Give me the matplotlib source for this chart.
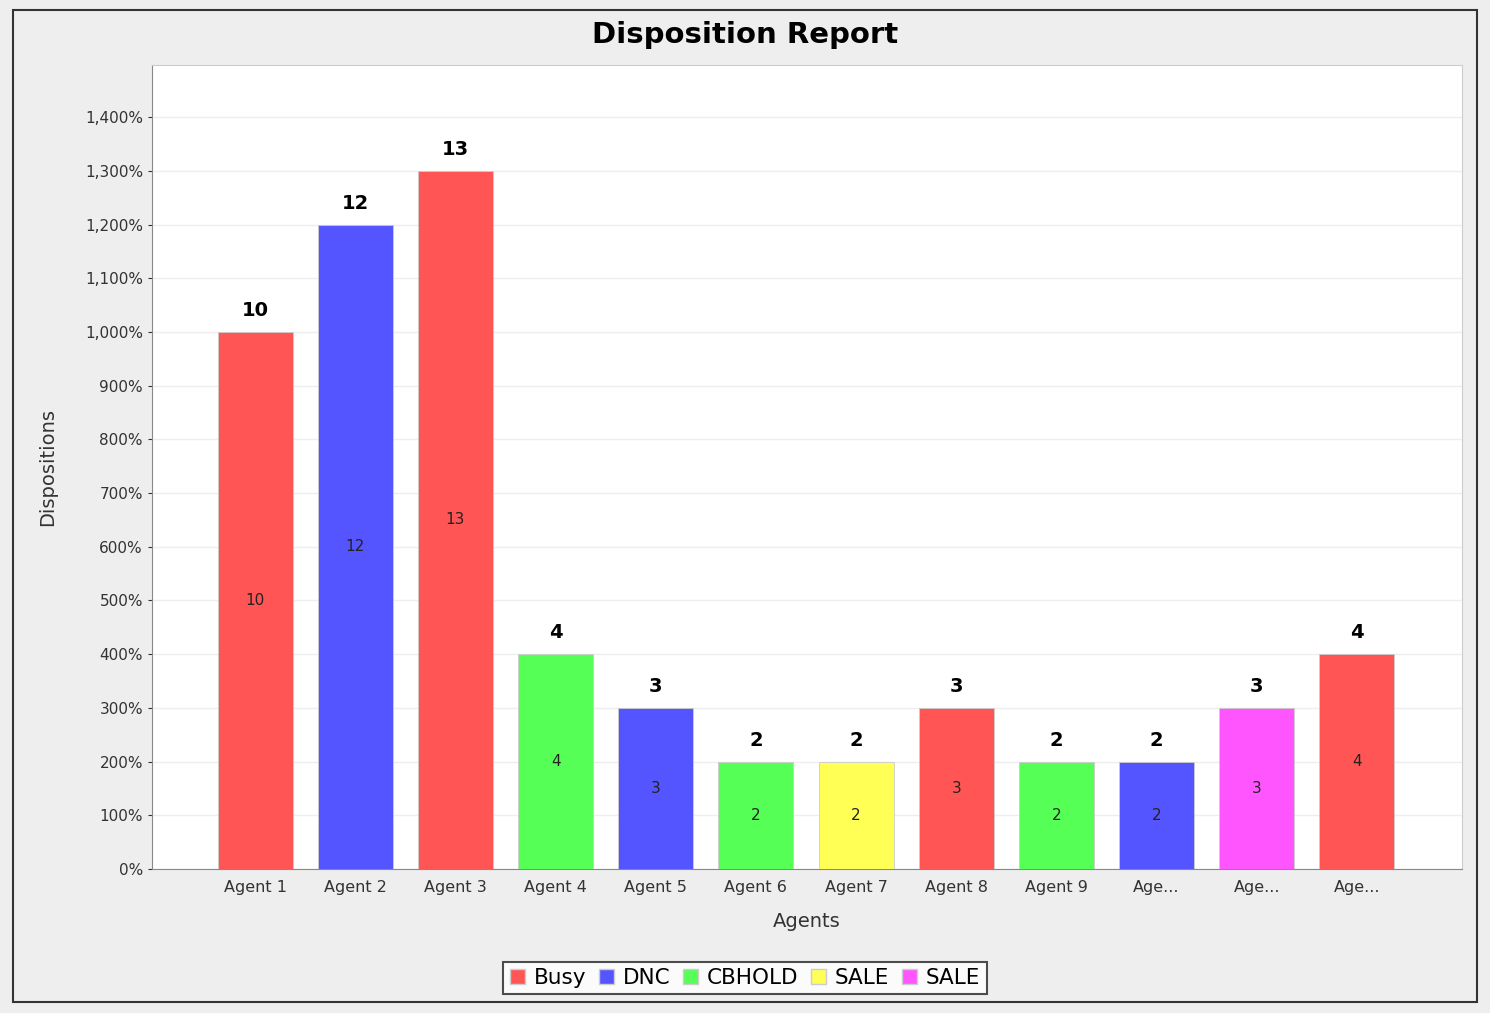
import numpy as np
import matplotlib
matplotlib.use("Agg")
import matplotlib.pyplot as plt
from matplotlib.patches import Rectangle, Patch
from matplotlib.ticker import FuncFormatter

# data
agents = ["Agent 1", "Agent 2", "Agent 3", "Agent 4", "Agent 5", "Agent 6",
          "Agent 7", "Agent 8", "Agent 9", "Age...", "Age...", "Age..."]
counts = [10, 12, 13, 4, 3, 2, 2, 3, 2, 2, 3, 4]
dispositions = ["Busy", "DNC", "Busy", "CBHOLD", "DNC", "CBHOLD",
                "SALE", "Busy", "CBHOLD", "DNC", "SALE2", "Busy"]

legend_names = ["Busy", "DNC", "CBHOLD", "SALE", "SALE"]
legend_keys = ["Busy", "DNC", "CBHOLD", "SALE", "SALE2"]
colors = {"Busy": "#ff5555", "DNC": "#5555ff", "CBHOLD": "#55ff55",
          "SALE": "#ffff55", "SALE2": "#ff55ff"}

W, H = 1490, 1013
fig = plt.figure(figsize=(W / 100, H / 100), dpi=100)
fig.patch.set_facecolor("#eeeeee")

# outer frame
fig.add_artist(Rectangle((13 / W, 1 - 1002 / H), (1477 - 13) / W, (1002 - 10) / H,
                         transform=fig.transFigure, fill=False,
                         edgecolor="#333333", linewidth=1.5))

ax = fig.add_axes([152 / W, 1 - 869 / H, (1462 - 152) / W, (869 - 65) / H])
ax.set_facecolor("white")

x = np.arange(len(agents))
bar_colors = [colors[d] for d in dispositions]
ax.bar(x, counts, width=0.75, color=bar_colors, edgecolor="#cccccc",
       linewidth=0.6, zorder=3)

for xi, c in zip(x, counts):
    ax.text(xi, c + 0.22, str(c), ha="center", va="bottom",
            fontsize=14, fontweight="bold", color="black")
    ax.text(xi, c / 2, str(c), ha="center", va="center",
            fontsize=11, color="#222222")

ax.set_xlim(-1.03, len(agents) - 1 + 1.05)
ax.set_ylim(0, 14.97)
ax.set_yticks(np.arange(0, 15, 1))
ax.yaxis.set_major_formatter(FuncFormatter(lambda v, p: f"{int(round(v * 100)):,}%"))
ax.set_xticks(x)
ax.set_xticklabels(agents, fontsize=11.5, color="#333333")
ax.tick_params(axis="y", labelsize=11, colors="#333333", length=3)
ax.tick_params(axis="x", length=0, pad=8)
ax.grid(axis="y", color="#eeeeee", linewidth=1, zorder=0)

for side in ["top", "right"]:
    ax.spines[side].set_color("#cccccc")
for side in ["left", "bottom"]:
    ax.spines[side].set_color("#888888")

ax.set_xlabel("Agents", fontsize=14, color="#333333", labelpad=12)
ax.set_ylabel("Dispositions", fontsize=14, color="#333333", labelpad=20)

fig.text(0.5, 1 - 35 / H, "Disposition Report", ha="center", va="center",
         fontsize=21, fontweight="bold")

handles = [Patch(facecolor=colors[k], edgecolor="#cccccc") for k in legend_keys]
leg = fig.legend(handles, legend_names, loc="center",
                 bbox_to_anchor=(745 / W, 1 - 978 / H), ncol=5, fontsize=15.5,
                 frameon=True, fancybox=False, handlelength=0.7,
                 handleheight=0.7, handletextpad=0.4, columnspacing=0.6,
                 borderpad=0.3)
leg.get_frame().set_edgecolor("#222222")
leg.get_frame().set_linewidth(1.5)

fig.savefig("out.png", dpi=100, facecolor=fig.get_facecolor())
